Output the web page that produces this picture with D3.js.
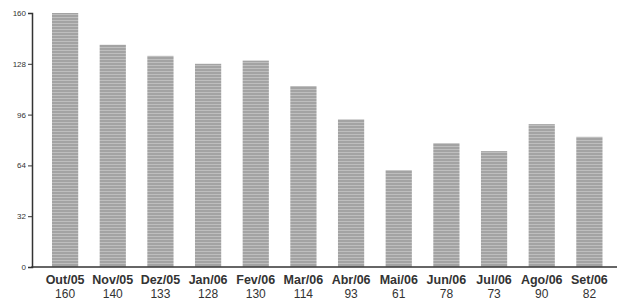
<!DOCTYPE html>
<html>
<head>
<meta charset="utf-8">
<script src="https://cdn.jsdelivr.net/npm/d3@7"></script>
<style>
body { margin: 0; background: #fff; }
svg { display: block; }
</style>
</head>
<body>
<svg width="617" height="305"></svg>
<script>
var width = 617;
var height = 305;

var months = ["Out/05", "Nov/05", "Dez/05", "Jan/06", "Fev/06", "Mar/06",
	"Abr/06", "Mai/06", "Jun/06", "Jul/06", "Ago/06", "Set/06"];
var values = [160, 140, 133, 128, 130, 114, 93, 61, 78, 73, 90, 82];
var yTicks = [0, 32, 64, 96, 128, 160];

var canvas = d3.select("svg");

// scanned look: gray bars with faint horizontal lines
var pat = canvas.append("defs").append("pattern")
	.attr("id", "hatch")
	.attr("patternUnits", "userSpaceOnUse")
	.attr("width", 4)
	.attr("height", 3);
pat.append("rect").attr("width", 4).attr("height", 3).attr("fill", "#a3a3a3");
pat.append("rect").attr("y", 2).attr("width", 4).attr("height", 1).attr("fill", "#bebebe");

var x = d3.scaleBand()
	.domain(months)
	.range([52, 602.5])
	.paddingInner(0.45)
	.paddingOuter(0);

var y = d3.scaleLinear()
	.domain([0, 160])
	.range([267, 13]);

canvas.append("g")
	.selectAll("rect")
	.data(values)
	.enter()
	.append("rect")
	.attr("x", function(d, i) { return x(months[i]); })
	.attr("y", function(d) { return y(d); })
	.attr("width", x.bandwidth())
	.attr("height", function(d) { return y(0) - y(d); })
	.attr("fill", "url(#hatch)");

var yAxis = canvas.append("g")
	.attr("transform", "translate(32,0)")
	.call(d3.axisLeft(y).tickValues(yTicks).tickSize(4).tickPadding(2));
yAxis.select(".domain").attr("stroke", "#333").attr("stroke-width", 1.5);
yAxis.selectAll(".tick line").attr("stroke", "#333");
yAxis.selectAll(".tick text")
	.attr("font-family", "Liberation Sans, Arial, sans-serif")
	.attr("font-size", 8)
	.attr("fill", "#333");

canvas.append("line")
	.attr("x1", 31.3).attr("x2", 617)
	.attr("y1", y(0)).attr("y2", y(0))
	.attr("stroke", "#333")
	.attr("stroke-width", 1.5);

var labels = canvas.append("g")
	.attr("font-family", "Liberation Sans, Arial, sans-serif")
	.attr("text-anchor", "middle")
	.attr("fill", "#333");

labels.selectAll(".month")
	.data(months)
	.enter()
	.append("text")
	.attr("class", "month")
	.attr("x", function(d) { return x(d) + x.bandwidth() / 2; })
	.attr("y", 284)
	.attr("font-size", 12.5)
	.attr("font-weight", "bold")
	.text(function(d) { return d; });

labels.selectAll(".val")
	.data(values)
	.enter()
	.append("text")
	.attr("class", "val")
	.attr("x", function(d, i) { return x(months[i]) + x.bandwidth() / 2; })
	.attr("y", 298)
	.attr("font-size", 12)
	.text(function(d) { return d; });
</script>
</body>
</html>
